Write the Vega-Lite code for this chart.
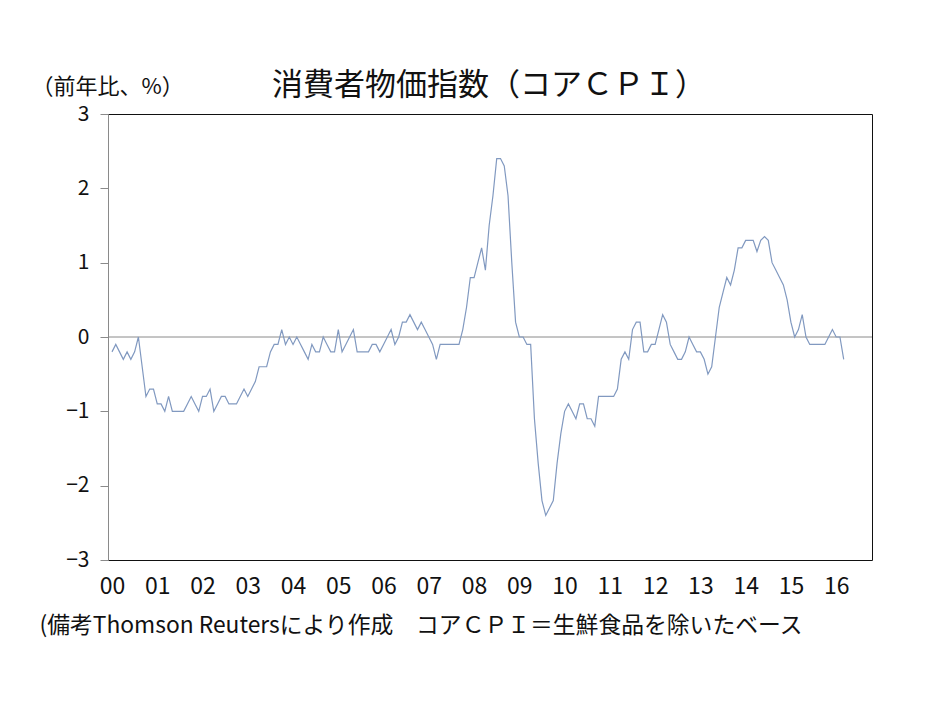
{
  "$schema": "https://vega.github.io/schema/vega-lite/v6.json",
  "width": 764,
  "height": 446,
  "autosize": {"type": "none"},
  "padding": {"left": 108, "top": 114, "right": 62, "bottom": 141},
  "background": "white",
  "title": {
    "text": "消費者物価指数（コアＣＰＩ）",
    "anchor": "start",
    "frame": "group",
    "dx": 164,
    "dy": 31,
    "fontSize": 31,
    "font": "Noto Sans CJK JP",
    "fontWeight": "normal",
    "color": "#111111"
  },
  "config": {
    "view": {"stroke": "#111111", "strokeWidth": 1},
    "axis": {"grid": false}
  },
  "layer": [
    {
      "data": {"values": [{"cpi": 0}]},
      "mark": {"type": "rule", "color": "#8a8a8a", "strokeWidth": 1},
      "encoding": {
        "y": {"field": "cpi", "type": "quantitative", "scale": {"domain": [-3, 3], "nice": false}}
      }
    },
    {
      "data": {"values": [
        {"m":0,"cpi":-0.2},{"m":1,"cpi":-0.1},{"m":2,"cpi":-0.2},{"m":3,"cpi":-0.3},{"m":4,"cpi":-0.2},{"m":5,"cpi":-0.3},{"m":6,"cpi":-0.2},{"m":7,"cpi":0.0},{"m":8,"cpi":-0.4},{"m":9,"cpi":-0.8},{"m":10,"cpi":-0.7},{"m":11,"cpi":-0.7},
        {"m":12,"cpi":-0.9},{"m":13,"cpi":-0.9},{"m":14,"cpi":-1.0},{"m":15,"cpi":-0.8},{"m":16,"cpi":-1.0},{"m":17,"cpi":-1.0},{"m":18,"cpi":-1.0},{"m":19,"cpi":-1.0},{"m":20,"cpi":-0.9},{"m":21,"cpi":-0.8},{"m":22,"cpi":-0.9},{"m":23,"cpi":-1.0},
        {"m":24,"cpi":-0.8},{"m":25,"cpi":-0.8},{"m":26,"cpi":-0.7},{"m":27,"cpi":-1.0},{"m":28,"cpi":-0.9},{"m":29,"cpi":-0.8},{"m":30,"cpi":-0.8},{"m":31,"cpi":-0.9},{"m":32,"cpi":-0.9},{"m":33,"cpi":-0.9},{"m":34,"cpi":-0.8},{"m":35,"cpi":-0.7},
        {"m":36,"cpi":-0.8},{"m":37,"cpi":-0.7},{"m":38,"cpi":-0.6},{"m":39,"cpi":-0.4},{"m":40,"cpi":-0.4},{"m":41,"cpi":-0.4},{"m":42,"cpi":-0.2},{"m":43,"cpi":-0.1},{"m":44,"cpi":-0.1},{"m":45,"cpi":0.1},{"m":46,"cpi":-0.1},{"m":47,"cpi":0.0},
        {"m":48,"cpi":-0.1},{"m":49,"cpi":0.0},{"m":50,"cpi":-0.1},{"m":51,"cpi":-0.2},{"m":52,"cpi":-0.3},{"m":53,"cpi":-0.1},{"m":54,"cpi":-0.2},{"m":55,"cpi":-0.2},{"m":56,"cpi":0.0},{"m":57,"cpi":-0.1},{"m":58,"cpi":-0.2},{"m":59,"cpi":-0.2},
        {"m":60,"cpi":0.1},{"m":61,"cpi":-0.2},{"m":62,"cpi":-0.1},{"m":63,"cpi":0.0},{"m":64,"cpi":0.1},{"m":65,"cpi":-0.2},{"m":66,"cpi":-0.2},{"m":67,"cpi":-0.2},{"m":68,"cpi":-0.2},{"m":69,"cpi":-0.1},{"m":70,"cpi":-0.1},{"m":71,"cpi":-0.2},
        {"m":72,"cpi":-0.1},{"m":73,"cpi":0.0},{"m":74,"cpi":0.1},{"m":75,"cpi":-0.1},{"m":76,"cpi":0.0},{"m":77,"cpi":0.2},{"m":78,"cpi":0.2},{"m":79,"cpi":0.3},{"m":80,"cpi":0.2},{"m":81,"cpi":0.1},{"m":82,"cpi":0.2},{"m":83,"cpi":0.1},
        {"m":84,"cpi":0.0},{"m":85,"cpi":-0.1},{"m":86,"cpi":-0.3},{"m":87,"cpi":-0.1},{"m":88,"cpi":-0.1},{"m":89,"cpi":-0.1},{"m":90,"cpi":-0.1},{"m":91,"cpi":-0.1},{"m":92,"cpi":-0.1},{"m":93,"cpi":0.1},{"m":94,"cpi":0.4},{"m":95,"cpi":0.8},
        {"m":96,"cpi":0.8},{"m":97,"cpi":1.0},{"m":98,"cpi":1.2},{"m":99,"cpi":0.9},{"m":100,"cpi":1.5},{"m":101,"cpi":1.9},{"m":102,"cpi":2.4},{"m":103,"cpi":2.4},{"m":104,"cpi":2.3},{"m":105,"cpi":1.9},{"m":106,"cpi":1.0},{"m":107,"cpi":0.2},
        {"m":108,"cpi":0.0},{"m":109,"cpi":0.0},{"m":110,"cpi":-0.1},{"m":111,"cpi":-0.1},{"m":112,"cpi":-1.1},{"m":113,"cpi":-1.7},{"m":114,"cpi":-2.2},{"m":115,"cpi":-2.4},{"m":116,"cpi":-2.3},{"m":117,"cpi":-2.2},{"m":118,"cpi":-1.7},{"m":119,"cpi":-1.3},
        {"m":120,"cpi":-1.0},{"m":121,"cpi":-0.9},{"m":122,"cpi":-1.0},{"m":123,"cpi":-1.1},{"m":124,"cpi":-0.9},{"m":125,"cpi":-0.9},{"m":126,"cpi":-1.1},{"m":127,"cpi":-1.1},{"m":128,"cpi":-1.2},{"m":129,"cpi":-0.8},{"m":130,"cpi":-0.8},{"m":131,"cpi":-0.8},
        {"m":132,"cpi":-0.8},{"m":133,"cpi":-0.8},{"m":134,"cpi":-0.7},{"m":135,"cpi":-0.3},{"m":136,"cpi":-0.2},{"m":137,"cpi":-0.3},{"m":138,"cpi":0.1},{"m":139,"cpi":0.2},{"m":140,"cpi":0.2},{"m":141,"cpi":-0.2},{"m":142,"cpi":-0.2},{"m":143,"cpi":-0.1},
        {"m":144,"cpi":-0.1},{"m":145,"cpi":0.1},{"m":146,"cpi":0.3},{"m":147,"cpi":0.2},{"m":148,"cpi":-0.1},{"m":149,"cpi":-0.2},{"m":150,"cpi":-0.3},{"m":151,"cpi":-0.3},{"m":152,"cpi":-0.2},{"m":153,"cpi":0.0},{"m":154,"cpi":-0.1},{"m":155,"cpi":-0.2},
        {"m":156,"cpi":-0.2},{"m":157,"cpi":-0.3},{"m":158,"cpi":-0.5},{"m":159,"cpi":-0.4},{"m":160,"cpi":0.0},{"m":161,"cpi":0.4},{"m":162,"cpi":0.6},{"m":163,"cpi":0.8},{"m":164,"cpi":0.7},{"m":165,"cpi":0.9},{"m":166,"cpi":1.2},{"m":167,"cpi":1.2},
        {"m":168,"cpi":1.3},{"m":169,"cpi":1.3},{"m":170,"cpi":1.3},{"m":171,"cpi":1.15},{"m":172,"cpi":1.3},{"m":173,"cpi":1.35},{"m":174,"cpi":1.3},{"m":175,"cpi":1.0},{"m":176,"cpi":0.9},{"m":177,"cpi":0.8},{"m":178,"cpi":0.7},{"m":179,"cpi":0.5},
        {"m":180,"cpi":0.2},{"m":181,"cpi":0.0},{"m":182,"cpi":0.1},{"m":183,"cpi":0.3},{"m":184,"cpi":0.0},{"m":185,"cpi":-0.1},{"m":186,"cpi":-0.1},{"m":187,"cpi":-0.1},{"m":188,"cpi":-0.1},{"m":189,"cpi":-0.1},{"m":190,"cpi":0.0},{"m":191,"cpi":0.1},
        {"m":192,"cpi":0.0},{"m":193,"cpi":0.0},{"m":194,"cpi":-0.3}
      ]},
      "mark": {"type": "line", "color": "#8199c0", "strokeWidth": 1.2},
      "encoding": {
        "x": {
          "field": "m",
          "type": "quantitative",
          "scale": {"domain": [-1.06, 201.5], "nice": false, "zero": false},
          "axis": {
            "values": [0, 12, 24, 36, 48, 60, 72, 84, 96, 108, 120, 132, 144, 156, 168, 180, 192],
            "labelExpr": "(datum.value < 120 ? '0' : '') + floor(datum.value / 12)",
            "labelFont": "Noto Sans CJK JP",
            "labelFontSize": 23,
            "labelColor": "#111111",
            "labelPadding": 15,
            "ticks": false,
            "tickSize": 0,
            "domain": false,
            "title": "(備考Thomson Reutersにより作成　コアＣＰＩ＝生鮮食品を除いたベース",
            "titleFont": "Noto Sans CJK JP",
            "titleFontSize": 22.8,
            "titleFontWeight": "normal",
            "titleColor": "#111111",
            "titleAlign": "left",
            "titleBaseline": "middle",
            "titleAnchor": "start",
            "titleX": -69,
            "titleY": 65
          }
        },
        "y": {
          "field": "cpi",
          "type": "quantitative",
          "scale": {"domain": [-3, 3], "nice": false},
          "axis": {
            "values": [-3, -2, -1, 0, 1, 2, 3],
            "format": "d",
            "labelFont": "Noto Sans CJK JP",
            "labelFontSize": 21,
            "labelColor": "#111111",
            "labelPadding": 11,
            "tickSize": 8,
            "tickColor": "#8a8a8a",
            "domainColor": "#8a8a8a",
            "title": "（前年比、%）",
            "titleFont": "Noto Sans CJK JP",
            "titleFontSize": 22,
            "titleFontWeight": "normal",
            "titleColor": "#111111",
            "titleAngle": 0,
            "titleAlign": "left",
            "titleBaseline": "middle",
            "titleX": -77,
            "titleY": -28
          }
        }
      }
    }
  ]
}
